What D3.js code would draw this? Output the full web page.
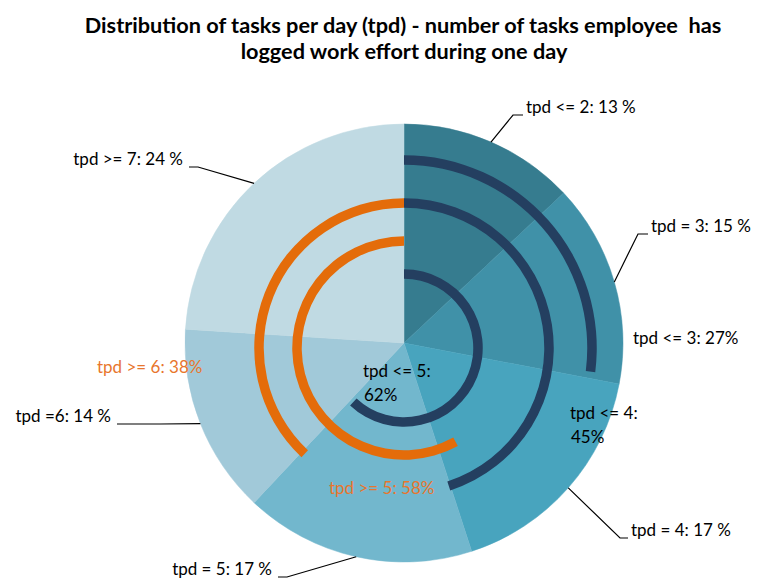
<!DOCTYPE html>
<html>
<head>
<meta charset="utf-8">
<script src="https://cdn.jsdelivr.net/npm/d3@7"></script>
<style>
  body { margin: 0; background: #fff; }
  text { font-family: Lato, "Open Sans", sans-serif; white-space: pre; }
</style>
</head>
<body>
<div id="chart"></div>
<script>
// pie slices (share of days, %)
const categories = ["tpd <= 2", "tpd = 3", "tpd = 4", "tpd = 5", "tpd =6", "tpd >= 7"];
const shares = [13, 15, 17, 17, 14, 24];
const sliceColors = ["#367c8f", "#4091a8", "#48a4be", "#72b7cd", "#a1c9d9", "#c0dae3"];

// cumulative arcs, clockwise from top
const cumLabels = ["tpd <= 3", "tpd <= 4", "tpd <= 5"];
const cumValues = [27, 45, 62];
// tail arcs, counter-clockwise from top
const tailLabels = ["tpd >= 6", "tpd >= 5"];
const tailValues = [38, 58];

const width = 762;
const height = 578;
const cx = 404, cy = 343, radius = 219;
const acx = 404, acy = 348;   // overlay rings sit a bit lower
const ringWidth = 9.5;
const cumRadius = [188, 145, 74];
const tailRadius = [145, 107];
const labelSize = "17px";

// label layout: elbow + end of leader line, text side
const sliceLabelLayout = [
    { elbow: [513, 115], end: [523, 115], anchor: "start" },
    { elbow: [638, 234], end: [648, 234], anchor: "start" },
    { elbow: [620, 538], end: [628, 538], anchor: "start" },
    { elbow: [287, 577], end: [278, 577], anchor: "end" },
    { elbow: [160, 424], end: [117, 424], anchor: "end" },
    { elbow: [198, 167], end: [189, 167], anchor: "end" }
];
const cumLabelLayout = [
    { x: 633, y: 340, lines: 1 },
    { x: 570, y: 415, lines: 2 },
    { x: 363, y: 373, lines: 2 }
];
const tailLabelLayout = [
    { x: 97, y: 369 },
    { x: 329, y: 490 }
];

const svg = d3.select("#chart")
    .append("svg")
    .attr("width", width)
    .attr("height", height);

// title
svg.append("text")
    .attr("x", 403).attr("y", 27)
    .attr("text-anchor", "middle")
    .attr("dominant-baseline", "middle")
    .style("font-size", "21.7px").style("font-weight", "bold")
    .text("Distribution of tasks per day (tpd) - number of tasks employee  has");
svg.append("text")
    .attr("x", 404).attr("y", 53)
    .attr("text-anchor", "middle")
    .attr("dominant-baseline", "middle")
    .style("font-size", "21.7px").style("font-weight", "bold")
    .text("logged work effort during one day");

const pie = d3.pie().sort(null).value(d => d.v);
const slices = pie(categories.map((c, i) => ({ c: c, v: shares[i], i: i })));
const arc = d3.arc().innerRadius(0).outerRadius(radius);

const pieG = svg.append("g").attr("transform", `translate(${cx},${cy})`);
pieG.selectAll(".slice")
    .data(slices)
    .enter()
    .append("path")
    .attr("class", "slice")
    .attr("d", arc)
    .attr("fill", d => sliceColors[d.index])
    .attr("stroke", d => sliceColors[d.index])
    .attr("stroke-width", 0.5);

// leader lines from the outer edge at the mid angle
const edgeArc = d3.arc().innerRadius(radius).outerRadius(radius);
svg.selectAll(".leader")
    .data(slices)
    .enter()
    .append("polyline")
    .attr("class", "leader")
    .attr("points", d => {
        const p = edgeArc.centroid(d);
        const l = sliceLabelLayout[d.index];
        return [[p[0] + cx, p[1] + cy], l.elbow, l.end].map(q => q.join(",")).join(" ");
    })
    .attr("fill", "none")
    .attr("stroke", "#000")
    .attr("stroke-width", 1.2);

svg.selectAll(".sliceLabel")
    .data(slices)
    .enter()
    .append("text")
    .attr("class", "sliceLabel")
    .attr("x", d => sliceLabelLayout[d.index].end[0] + (sliceLabelLayout[d.index].anchor === "start" ? 3 : -6))
    .attr("y", d => sliceLabelLayout[d.index].end[1] - 6)
    .attr("text-anchor", d => sliceLabelLayout[d.index].anchor)
    .attr("dominant-baseline", "middle")
    .style("font-size", labelSize)
    .attr("fill", "#000")
    .text(d => `${d.data.c}: ${d.data.v} %`);

// overlay rings
const angle = d3.scaleLinear().domain([0, 100]).range([0, 2 * Math.PI]);
const ringG = svg.append("g").attr("transform", `translate(${acx},${acy})`);

ringG.selectAll(".cum")
    .data(cumValues)
    .enter()
    .append("path")
    .attr("class", "cum")
    .attr("d", (v, i) => d3.arc()
        .innerRadius(cumRadius[i] - ringWidth / 2)
        .outerRadius(cumRadius[i] + ringWidth / 2)
        .startAngle(0)
        .endAngle(angle(v))())
    .attr("fill", "#243f60");

ringG.selectAll(".tail")
    .data(tailValues)
    .enter()
    .append("path")
    .attr("class", "tail")
    .attr("d", (v, i) => d3.arc()
        .innerRadius(tailRadius[i] - ringWidth / 2)
        .outerRadius(tailRadius[i] + ringWidth / 2)
        .startAngle(-angle(v))
        .endAngle(0)())
    .attr("fill", "#e46c0a");

// ring labels
cumValues.forEach((v, i) => {
    const l = cumLabelLayout[i];
    const t = svg.append("text")
        .attr("x", l.x).attr("y", l.y)
        .attr("dominant-baseline", "middle")
        .style("font-size", labelSize)
        .attr("fill", "#000");
    if (l.lines === 1) {
        t.text(`${cumLabels[i]}: ${v}%`);
    } else {
        t.append("tspan").attr("x", l.x).attr("y", l.y).text(`${cumLabels[i]}:`);
        t.append("tspan").attr("x", l.x + 1).attr("y", l.y + 24).text(`${v}%`);
    }
});

svg.selectAll(".tailLabel")
    .data(tailValues)
    .enter()
    .append("text")
    .attr("class", "tailLabel")
    .attr("x", (v, i) => tailLabelLayout[i].x)
    .attr("y", (v, i) => tailLabelLayout[i].y)
    .attr("dominant-baseline", "middle")
    .style("font-size", labelSize)
    .attr("fill", "#e8762d")
    .text((v, i) => `${tailLabels[i]}: ${v}%`);
</script>
</body>
</html>
